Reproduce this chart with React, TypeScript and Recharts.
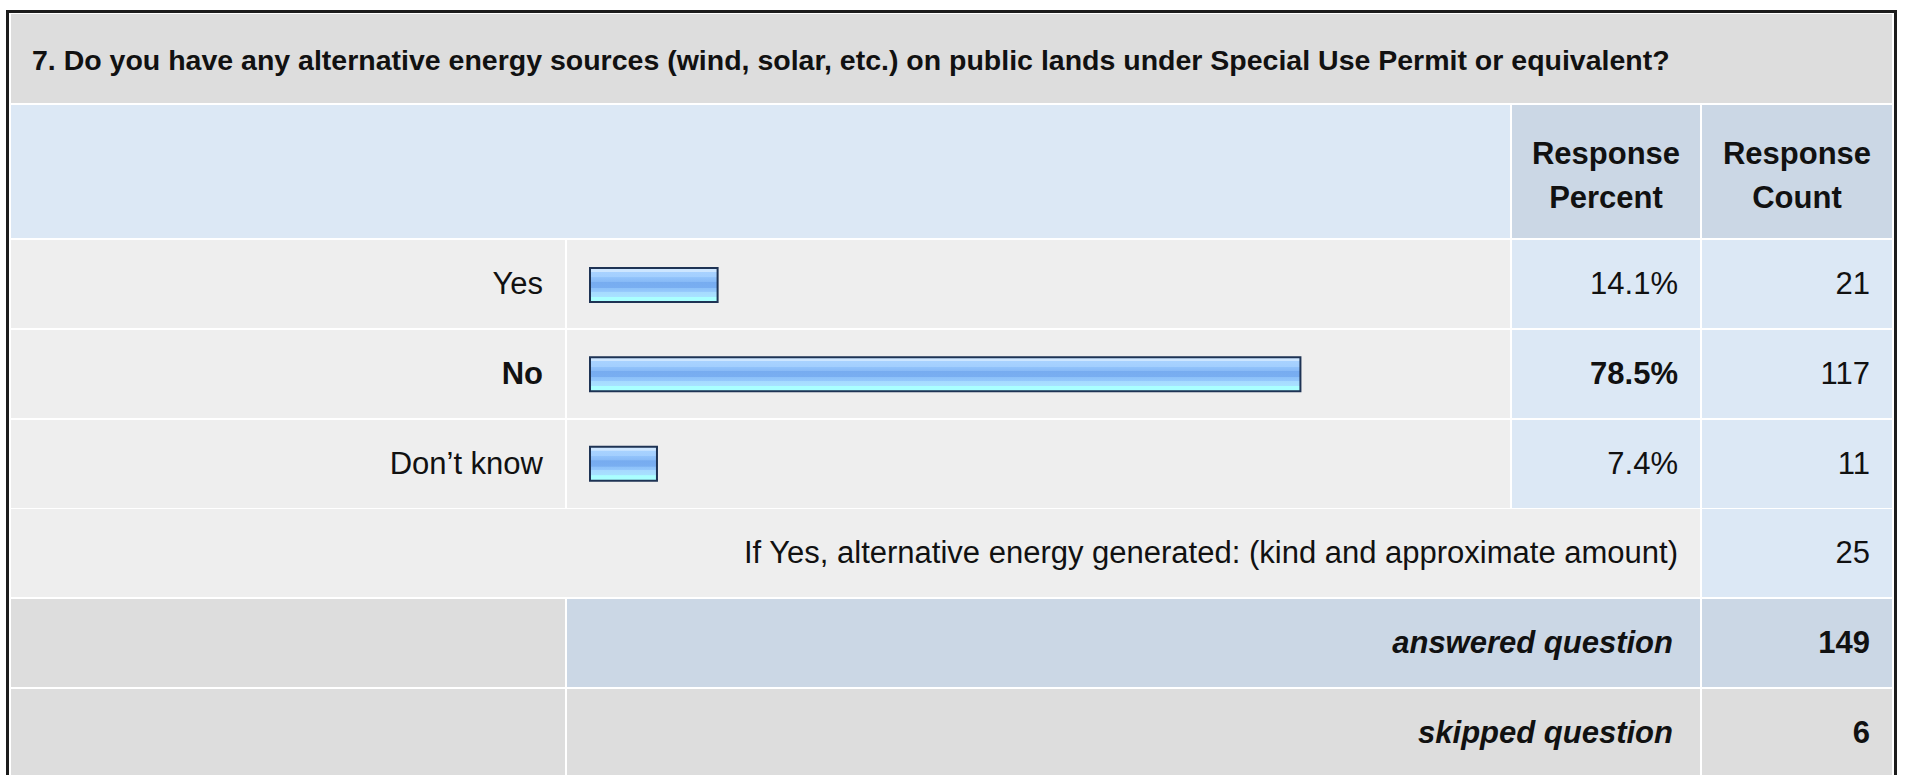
import React from "react";
import { BarChart, Bar, XAxis, YAxis } from "recharts";

const question =
  "7. Do you have any alternative energy sources (wind, solar, etc.) on public lands under Special Use Permit or equivalent?";
const answers = ["Yes", "No", "Don’t know"];
const percents = [14.1, 78.5, 7.4];
const counts = [21, 117, 11];
const otherLabel = "If Yes, alternative energy generated: (kind and approximate amount)";
const otherCount = 25;
const answeredCount = 149;
const skippedCount = 6;

const FONT = '"Liberation Sans", Arial, Helvetica, sans-serif';
const GREY = "#dddddd";
const LIGHT = "#eeeeee";
const BLUE = "#dce8f5";
const BLUE2 = "#cbd7e5";

// column / row edges in page pixels
const X0 = 11;
const XLAB = 565;
const XBAR = 567;
const XPCT = 1512;
const XPCT_END = 1700;
const XCNT = 1702;
const X1 = 1892;
const rowTops = [240, 330, 420];
const ROW_H = 88;

type CellProps = {
  x0: number;
  x1: number;
  y0: number;
  y1: number;
  bg: string;
  align?: "left" | "right" | "center";
  pad?: number;
  style?: React.CSSProperties;
  children?: React.ReactNode;
};

function Cell({ x0, x1, y0, y1, bg, align = "right", pad = 22, style, children }: CellProps) {
  return (
    <div
      style={{
        position: "absolute",
        left: x0,
        top: y0,
        width: x1 - x0,
        height: y1 - y0,
        background: bg,
        display: "flex",
        alignItems: "center",
        justifyContent: align === "right" ? "flex-end" : align === "center" ? "center" : "flex-start",
        textAlign: align,
        paddingLeft: align === "left" ? pad : 0,
        paddingRight: align === "right" ? pad : 0,
        boxSizing: "border-box",
        fontSize: 31,
        color: "#111",
        whiteSpace: "nowrap",
        ...style,
      }}
    >
      {children}
    </div>
  );
}

export default function App() {
  const maxPct = Math.max(...percents);
  const data = answers.map((a, i) => ({ answer: a, pct: percents[i] }));
  const chartTop = rowTops[0];
  const chartH = rowTops[2] + ROW_H - chartTop;
  const headStyle: React.CSSProperties = {
    fontWeight: "bold",
    fontSize: 31,
    lineHeight: "44px",
    paddingTop: 8,
    whiteSpace: "normal",
  };

  return (
    <div
      style={{
        position: "absolute",
        left: 0,
        top: 0,
        width: 1907,
        height: 775,
        overflow: "hidden",
        background: "#fff",
        fontFamily: FONT,
      }}
    >
      <div
        style={{
          position: "absolute",
          left: 6,
          top: 10,
          width: 1891,
          height: 800,
          border: "3px solid #1c1c1c",
          boxSizing: "border-box",
        }}
      />

      <Cell x0={X0} x1={X1} y0={14} y1={103} bg={GREY} align="left" pad={21} style={{ fontSize: 28.5, fontWeight: "bold", paddingTop: 4 }}>
        {question}
      </Cell>

      <Cell x0={X0} x1={XPCT - 2} y0={105} y1={238} bg={BLUE} />
      <Cell x0={XPCT} x1={XPCT_END} y0={105} y1={238} bg={BLUE2} align="center" style={headStyle}>
        Response
        <br />
        Percent
      </Cell>
      <Cell x0={XCNT} x1={X1} y0={105} y1={238} bg={BLUE2} align="center" style={headStyle}>
        Response
        <br />
        Count
      </Cell>

      {answers.map((a, i) => {
        const bold = percents[i] === maxPct;
        const y0 = rowTops[i];
        const y1 = y0 + ROW_H;
        return (
          <React.Fragment key={a}>
            <Cell x0={X0} x1={XLAB} y0={y0} y1={y1} bg={LIGHT} style={{ fontWeight: bold ? "bold" : "normal" }}>
              {a}
            </Cell>
            <Cell x0={XBAR} x1={XPCT - 2} y0={y0} y1={y1} bg={LIGHT} />
            <Cell x0={XPCT} x1={XPCT_END} y0={y0} y1={y1} bg={BLUE} style={{ fontWeight: bold ? "bold" : "normal" }}>
              {percents[i].toFixed(1)}%
            </Cell>
            <Cell x0={XCNT} x1={X1} y0={y0} y1={y1} bg={BLUE}>
              {counts[i]}
            </Cell>
          </React.Fragment>
        );
      })}

      <div style={{ position: "absolute", left: XBAR, top: chartTop }}>
        <BarChart
          width={XPCT - 2 - XBAR}
          height={chartH}
          data={data}
          layout="vertical"
          margin={{ top: 0, right: 15, bottom: 0, left: 23 }}
          barCategoryGap={0}
        >
          <defs>
            <linearGradient id="barFill" x1="0" y1="0" x2="0" y2="1">
              <stop offset="0" stopColor="#cde6ff" />
              <stop offset="0.11" stopColor="#cde6ff" />
              <stop offset="0.12" stopColor="#a8d2ff" />
              <stop offset="0.27" stopColor="#a3cffe" />
              <stop offset="0.28" stopColor="#92c3fb" />
              <stop offset="0.4" stopColor="#88baf6" />
              <stop offset="0.41" stopColor="#77acf0" />
              <stop offset="0.58" stopColor="#79aef1" />
              <stop offset="0.59" stopColor="#8dc1f9" />
              <stop offset="0.69" stopColor="#94c8fc" />
              <stop offset="0.7" stopColor="#a6daff" />
              <stop offset="0.84" stopColor="#a8e2ff" />
              <stop offset="0.85" stopColor="#aaffff" />
              <stop offset="1" stopColor="#aaffff" />
            </linearGradient>
          </defs>
          <XAxis type="number" domain={[0, 100]} hide />
          <YAxis type="category" dataKey="answer" hide />
          <Bar
            dataKey="pct"
            barSize={34}
            fill="url(#barFill)"
            stroke="#1e3354"
            strokeWidth={2}
            isAnimationActive={false}
          />
        </BarChart>
      </div>

      <Cell x0={X0} x1={XPCT_END} y0={509} y1={597} bg={LIGHT}>
        {otherLabel}
      </Cell>
      <Cell x0={XCNT} x1={X1} y0={509} y1={597} bg={BLUE}>
        {otherCount}
      </Cell>

      <Cell x0={X0} x1={XLAB} y0={599} y1={687} bg={GREY} />
      <Cell x0={XBAR} x1={XPCT_END} y0={599} y1={687} bg={BLUE2} pad={27} style={{ fontWeight: "bold", fontStyle: "italic" }}>
        answered question
      </Cell>
      <Cell x0={XCNT} x1={X1} y0={599} y1={687} bg={BLUE2} style={{ fontWeight: "bold" }}>
        {answeredCount}
      </Cell>

      <Cell x0={X0} x1={XLAB} y0={689} y1={777} bg={GREY} />
      <Cell x0={XBAR} x1={XPCT_END} y0={689} y1={777} bg={GREY} pad={27} style={{ fontWeight: "bold", fontStyle: "italic" }}>
        skipped question
      </Cell>
      <Cell x0={XCNT} x1={X1} y0={689} y1={777} bg={GREY} style={{ fontWeight: "bold" }}>
        {skippedCount}
      </Cell>
    </div>
  );
}
